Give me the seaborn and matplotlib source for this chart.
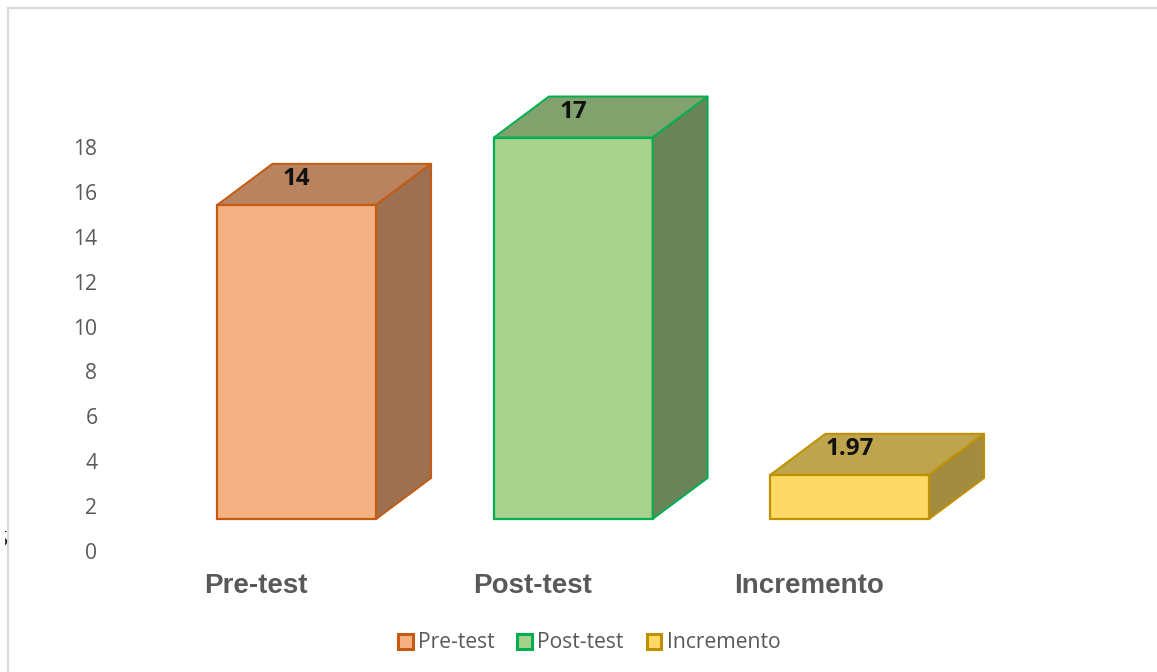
"""
Pre-test / Post-test / Incremento, bars with a fake 3D box look
"""

import matplotlib
matplotlib.use("Agg")
import matplotlib.pyplot as plt
import matplotlib.patches as mpatches
import matplotlib.transforms as mtrans
from matplotlib.lines import Line2D
import pandas as pd
import seaborn as sns

CATEGORIES = ["Pre-test", "Post-test", "Incremento"]
VALUES = [14, 17, 1.97]
Y_TICKS = [0, 2, 4, 6, 8, 10, 12, 14, 16, 18]

FRONT_COLORS = ["#F4B183", "#A9D18E", "#FFD966"]
EDGE_COLORS = ["#C55A11", "#00B050", "#BF9000"]
TOP_COLORS = ["#BA8360", "#81A16D", "#BEA44C"]
SIDE_COLORS = ["#9C7050", "#688458", "#A38B3F"]
TEXT_GRAY = "#595959"
FRAME_GRAY = "#D9D9D9"

W, H = 1157, 672
PX_PER_UNIT = 22.44     # vertical scale of the value axis
CAT_STEP = 276.5        # px between bars
FLOOR = 32 / PX_PER_UNIT
DEPTH_X = 55 / CAT_STEP
DEPTH_Y = 41 / PX_PER_UNIT

sns.set_theme(style="white")
plt.rcParams["font.family"] = ["Open Sans", "DejaVu Sans"]


def px_box(left, top, right, bottom):
    return [left / W, 1 - bottom / H, (right - left) / W, (bottom - top) / H]


fig = plt.figure(figsize=(W / 100, H / 100), dpi=100)
fig.patch.set_facecolor("white")

# bars live on ax, whose zero sits above the printed zero of the tick axis
ax = fig.add_axes(px_box(158.5, 60, 988, 551))
df = pd.DataFrame({"grupo": CATEGORIES, "valor": VALUES})
sns.barplot(data=df, x="grupo", y="valor", hue="grupo", palette=FRONT_COLORS,
            saturation=1, width=0.574, legend=False, ax=ax)

top_limit = 491 / PX_PER_UNIT
ax.set_ylim(-FLOOR, top_limit - FLOOR)
ax.set_xlim(-0.5, 2.5)
ax.set_xlabel("")
ax.set_ylabel("")
ax.set_yticks([])
sns.despine(ax=ax, left=True, bottom=True)

# side and top faces taken from each drawn bar
for bar, top_c, side_c, edge_c, val in zip(ax.patches, TOP_COLORS, SIDE_COLORS,
                                           EDGE_COLORS, VALUES):
    bar.set_edgecolor(edge_c)
    bar.set_linewidth(1.6)
    x0, x1 = bar.get_x(), bar.get_x() + bar.get_width()
    ax.add_patch(mpatches.Polygon(
        [(x0, val), (x1, val), (x1 + DEPTH_X, val + DEPTH_Y), (x0 + DEPTH_X, val + DEPTH_Y)],
        facecolor=top_c, edgecolor=edge_c, linewidth=1.4, joinstyle="round"))
    ax.add_patch(mpatches.Polygon(
        [(x1, 0), (x1 + DEPTH_X, DEPTH_Y), (x1 + DEPTH_X, val + DEPTH_Y), (x1, val)],
        facecolor=side_c, edgecolor=edge_c, linewidth=1.4, joinstyle="round"))
    ax.annotate(f"{val:g}", xy=((x0 + x1) / 2, val), xytext=(0, 18.6),
                textcoords="offset points", ha="center", va="center",
                fontsize=17.5, fontweight="bold", color="#111111")

# category labels sit left of their bars
ax.set_xticks(range(len(CATEGORIES)))
ax.set_xticklabels(CATEGORIES, fontsize=20, fontweight="bold", color=TEXT_GRAY,
                   family="Liberation Sans")
ax.tick_params(axis="x", length=0, pad=16)
shift = mtrans.ScaledTranslation(-41 / 100, 0, fig.dpi_scale_trans)
for lab in ax.get_xticklabels():
    lab.set_transform(lab.get_transform() + shift)

# value axis
ax2 = ax.twinx()
ax2.set_ylim(0, top_limit)
ax2.set_yticks(Y_TICKS)
ax2.set_yticklabels([str(t) for t in Y_TICKS], fontsize=15.2, color=TEXT_GRAY)
ax2.yaxis.tick_left()
ax2.tick_params(axis="y", length=0, pad=44)
ax2.patch.set_visible(False)
sns.despine(ax=ax2, left=True, bottom=True, right=True)

# legend
handles = [mpatches.Patch(facecolor=f, edgecolor=e, linewidth=2.2, label=c)
           for f, e, c in zip(FRONT_COLORS, EDGE_COLORS, CATEGORIES)]
fig.legend(handles=handles, ncol=3, loc="center", bbox_to_anchor=(589 / W, 1 - 643 / H),
           frameon=False, fontsize=15.2, labelcolor=TEXT_GRAY, handlelength=0.7,
           handleheight=0.7, handletextpad=0.25, columnspacing=1.08)

# chart frame, only the top and left edges show in the crop
fig.add_artist(Line2D([8 / W, 8 / W], [0, 1 - 8 / H], color=FRAME_GRAY, lw=1.6))
fig.add_artist(Line2D([8 / W, 1], [1 - 8 / H, 1 - 8 / H], color=FRAME_GRAY, lw=1.6))

# stray cut off letter at the left edge of the source picture
stray = fig.text(8.5 / W, 1 - 541 / H, "S", ha="right", va="center", fontsize=16,
                 color="#222222")
stray.set_clip_box(mtrans.Bbox.from_extents(4.5, H - 550, 8, H - 531))
stray.set_clip_on(True)

fig.savefig("out.png", dpi=100)
